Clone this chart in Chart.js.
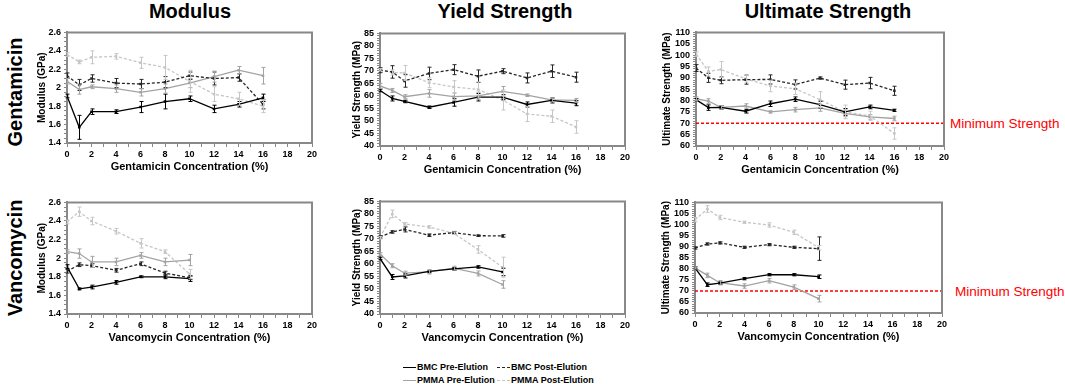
<!DOCTYPE html>
<html>
<head>
<meta charset="utf-8">
<script src="https://cdn.jsdelivr.net/npm/chart.js@4"></script>
<style>
    body { margin: 0; width: 1065px; height: 384px; position: relative; background: #fff; overflow: hidden; font-family: "Liberation Sans", Arial, sans-serif; }
    .panel { position: absolute; }
    .title { position: absolute; top: 0; font: bold 20px "Liberation Sans Narrow", "Liberation Sans", sans-serif; transform: translateX(-50%); white-space: nowrap; }
    .rowlabel { position: absolute; font: bold 20px "Liberation Sans", Arial, sans-serif; transform: translate(-50%, -50%) rotate(-90deg); white-space: nowrap; }
    .minstr { position: absolute; color: #f00; font: 13.5px "Liberation Sans", Arial, sans-serif; transform: translateY(-50%); white-space: nowrap; }
    .legend { position: absolute; left: 403px; top: 361px; font: bold 9px "Liberation Sans", Arial, sans-serif; }
    .legend .item { position: absolute; white-space: nowrap; height: 12px; line-height: 12px; }
    .legend .swatch { display: inline-block; width: 13px; height: 0; vertical-align: middle; margin-right: 1px; border-top-width: 1px; }
</style>
</head>
<body>
<div class="title" style="left:190px">Modulus</div>
<div class="title" style="left:505px">Yield Strength</div>
<div class="title" style="left:828px">Ultimate Strength</div>
<div class="rowlabel" style="left:15px;top:92px">Gentamicin</div>
<div class="rowlabel" style="left:15px;top:258px">Vancomycin</div>
<div class="minstr" style="left:950px;top:123px">Minimum Strength</div>
<div class="minstr" style="left:955px;top:291px">Minimum Strength</div>
<div class="legend" id="legend"></div>

<script>
// concentrations (%)
var gentX = [0, 1, 2, 4, 6, 8, 10, 12, 14, 16];
var vancX = [0, 1, 2, 4, 6, 8, 10];
var seriesNames = ['BMC Pre-Elution', 'BMC Post-Elution', 'PMMA Pre-Elution', 'PMMA Post-Elution'];
var minStrength = 70;

// Gentamicin - modulus (GPa)
var gentModBmcPre = [1.91, 1.57, 1.74, 1.74, 1.79, 1.85, 1.88, 1.77, 1.82, 1.89];
var gentModBmcPreErr = [0.02, 0.13, 0.03, 0.02, 0.06, 0.08, 0.03, 0.04, 0.03, 0.04];
var gentModBmcPost = [2.13, 2.03, 2.10, 2.05, 2.04, 2.06, 2.13, 2.10, 2.11, 1.82];
var gentModBmcPostErr = [0.03, 0.06, 0.04, 0.05, 0.05, 0.06, 0.04, 0.07, 0.04, 0.05];
var gentModPmmaPre = [2.07, 1.98, 2.01, 1.99, 1.95, 1.99, 2.05, 2.12, 2.19, 2.13];
var gentModPmmaPreErr = [0.03, 0.05, 0.02, 0.04, 0.04, 0.05, 0.05, 0.06, 0.04, 0.09];
var gentModPmmaPost = [2.36, 2.28, 2.33, 2.34, 2.27, 2.22, 2.07, 1.93, 1.88, 1.80];
var gentModPmmaPostErr = [0.02, 0.02, 0.07, 0.03, 0.06, 0.13, 0.12, 0.08, 0.07, 0.07];

// Gentamicin - yield strength (MPa)
var gentYsBmcPre = [62.2, 59.0, 57.8, 55.5, 57.4, 59.5, 59.5, 56.6, 58.2, 57.1];
var gentYsBmcPreErr = [0.5, 1, 0.5, 0.5, 1.5, 1.5, 1, 1, 1, 1];
var gentYsBmcPost = [70.3, 69.6, 66.0, 69.0, 70.5, 67.9, 69.9, 67.2, 69.9, 67.5];
var gentYsBmcPostErr = [1, 2.5, 2.5, 2.5, 2, 2.5, 1, 2, 2.5, 2];
var gentYsPmmaPre = [64.0, 62.2, 59.7, 61.0, 59.7, 60.0, 61.8, 60.3, 58.4, 58.2];
var gentYsPmmaPreErr = [1, 0.8, 0.8, 1.5, 1.5, 1.5, 2, 0.5, 0.8, 0.8];
var gentYsPmmaPost = [70.5, 69.4, 69.2, 65.3, 63.6, 62.6, 58.4, 52.8, 51.9, 47.6];
var gentYsPmmaPostErr = [0.5, 1, 3, 2, 2.5, 3, 4, 3, 2.5, 2.5];

// Gentamicin - ultimate strength (MPa)
var gentUtsBmcPre = [80.4, 76.9, 77.0, 75.3, 78.6, 80.6, 78.2, 75.0, 77.2, 75.7];
var gentUtsBmcPreErr = [0.5, 1.2, 0.8, 0.8, 1.2, 1, 1.5, 1.5, 0.8, 0.5];
var gentUtsBmcPost = [94.3, 90.0, 88.9, 89.2, 89.3, 87.1, 89.9, 87.0, 87.7, 84.3];
var gentUtsBmcPostErr = [1.5, 2, 1.5, 2, 2, 2, 0.5, 2, 2.5, 2];
var gentUtsPmmaPre = [80.8, 79.8, 77.0, 77.6, 75.0, 76.0, 76.8, 74.4, 72.8, 72.1];
var gentUtsPmmaPreErr = [0.8, 1, 0.8, 1, 0.5, 1, 1.5, 1.5, 1, 1];
var gentUtsPmmaPost = [100.5, 92.8, 93.7, 89.6, 86.4, 85.2, 80.4, 75.0, 73.3, 65.5];
var gentUtsPmmaPostErr = [1, 2, 3.5, 1.5, 2.5, 2.5, 3.5, 3, 2, 2.5];

// Vancomycin - modulus (GPa)
var vancModBmcPre = [1.91, 1.67, 1.69, 1.74, 1.80, 1.80, 1.78];
var vancModBmcPreErr = [0.02, 0.01, 0.02, 0.02, 0.01, 0.02, 0.03];
var vancModBmcPost = [1.86, 1.93, 1.92, 1.87, 1.94, 1.84, 1.79];
var vancModBmcPostErr = [0.02, 0.02, 0.02, 0.02, 0.02, 0.02, 0.02];
var vancModPmmaPre = [2.07, 2.05, 1.96, 1.96, 2.03, 1.96, 1.98];
var vancModPmmaPreErr = [0.02, 0.05, 0.06, 0.04, 0.03, 0.04, 0.06];
var vancModPmmaPost = [2.39, 2.50, 2.40, 2.29, 2.16, 2.07, 1.83];
var vancModPmmaPostErr = [0.02, 0.05, 0.04, 0.03, 0.05, 0.02, 0.05];

// Vancomycin - yield strength (MPa)
var vancYsBmcPre = [62.2, 54.8, 55.2, 57.0, 58.0, 58.8, 56.8];
var vancYsBmcPreErr = [0.5, 1, 0.8, 0.5, 0.5, 0.5, 1.5];
var vancYsBmcPost = [70.8, 72.8, 73.8, 71.5, 72.5, 71.3, 71.2];
var vancYsBmcPostErr = [0.5, 0.5, 1, 0.5, 0.5, 0.3, 0.5];
var vancYsPmmaPre = [64.0, 59.3, 56.3, 56.8, 58.3, 56.2, 51.8];
var vancYsPmmaPreErr = [0.5, 0.8, 0.8, 0.8, 0.8, 1, 1.5];
var vancYsPmmaPost = [70.5, 80.0, 76.0, 74.8, 72.3, 65.8, 58.7];
var vancYsPmmaPostErr = [0.5, 1.5, 0.5, 0.5, 0.5, 1.5, 4];

// Vancomycin - ultimate strength (MPa)
var vancUtsBmcPre = [80.4, 72.8, 73.5, 75.5, 77.3, 77.3, 76.4];
var vancUtsBmcPreErr = [0.5, 0.8, 0.5, 0.5, 0.5, 0.5, 0.8];
var vancUtsBmcPost = [89.4, 91.2, 91.7, 89.7, 90.9, 89.7, 89.1];
var vancUtsBmcPostErr = [0.5, 0.5, 0.5, 0.5, 0.5, 0.5, 5.3];
var vancUtsPmmaPre = [80.4, 77.0, 73.7, 72.2, 74.6, 71.7, 66.5];
var vancUtsPmmaPreErr = [0.5, 1, 1, 1, 1, 1, 1.5];
var vancUtsPmmaPost = [102.2, 107.0, 103.2, 101.0, 99.8, 96.5, 89.5];
var vancUtsPmmaPostErr = [1, 1.5, 1, 0.5, 1, 1, 1];

// line styles in the order of seriesNames
var seriesStyles = [
    { color: '#000000', dash: [] },
    { color: '#262626', dash: [3, 2] },
    { color: '#a3a3a3', dash: [] },
    { color: '#c6c6c6', dash: [3, 2] }
];

var panels = [
    { x: gentX, xTitle: 'Gentamicin Concentration (%)', yTitle: 'Modulus (GPa)', yMin: 1.4, yMax: 2.6, major: 0.2, minor: 0.05,
      series: [[gentModBmcPre, gentModBmcPreErr], [gentModBmcPost, gentModBmcPostErr], [gentModPmmaPre, gentModPmmaPreErr], [gentModPmmaPost, gentModPmmaPostErr]],
      box: { left: 67, top: 32, right: 312, bottom: 143, yw: 31 } },
    { x: gentX, xTitle: 'Gentamicin Concentration (%)', yTitle: 'Yield Strength (MPa)', yMin: 40, yMax: 85, major: 5, minor: 1,
      series: [[gentYsBmcPre, gentYsBmcPreErr], [gentYsBmcPost, gentYsBmcPostErr], [gentYsPmmaPre, gentYsPmmaPreErr], [gentYsPmmaPost, gentYsPmmaPostErr]],
      box: { left: 380, top: 33, right: 625, bottom: 146, yw: 29 } },
    { x: gentX, xTitle: 'Gentamicin Concentration (%)', yTitle: 'Ultimate Strength (MPa)', yMin: 60, yMax: 110, major: 5, minor: 1, minLine: true,
      series: [[gentUtsBmcPre, gentUtsBmcPreErr], [gentUtsBmcPost, gentUtsBmcPostErr], [gentUtsPmmaPre, gentUtsPmmaPreErr], [gentUtsPmmaPost, gentUtsPmmaPostErr]],
      box: { left: 696, top: 32, right: 944, bottom: 146, yw: 35 } },
    { x: vancX, xTitle: 'Vancomycin Concentration (%)', yTitle: 'Modulus (GPa)', yMin: 1.4, yMax: 2.6, major: 0.2, minor: 0.05,
      series: [[vancModBmcPre, vancModBmcPreErr], [vancModBmcPost, vancModBmcPostErr], [vancModPmmaPre, vancModPmmaPreErr], [vancModPmmaPost, vancModPmmaPostErr]],
      box: { left: 67, top: 202, right: 312, bottom: 314, yw: 31 } },
    { x: vancX, xTitle: 'Vancomycin Concentration (%)', yTitle: 'Yield Strength (MPa)', yMin: 40, yMax: 85, major: 5, minor: 1,
      series: [[vancYsBmcPre, vancYsBmcPreErr], [vancYsBmcPost, vancYsBmcPostErr], [vancYsPmmaPre, vancYsPmmaPreErr], [vancYsPmmaPost, vancYsPmmaPostErr]],
      box: { left: 380, top: 201, right: 625, bottom: 314, yw: 29 } },
    { x: vancX, xTitle: 'Vancomycin Concentration (%)', yTitle: 'Ultimate Strength (MPa)', yMin: 60, yMax: 110, major: 5, minor: 1, minLine: true,
      series: [[vancUtsBmcPre, vancUtsBmcPreErr], [vancUtsBmcPost, vancUtsBmcPostErr], [vancUtsPmmaPre, vancUtsPmmaPreErr], [vancUtsPmmaPost, vancUtsPmmaPostErr]],
      box: { left: 695, top: 202, right: 942, bottom: 313, yw: 35 } }
];

Chart.defaults.font.family = '"Liberation Sans", Arial, sans-serif';
Chart.defaults.color = '#000';

// error bars, then the grey frame round the plot area
var errorBars = {
    id: 'errorBars',
    afterDatasetsDraw: function (chart) {
        var ctx = chart.ctx;
        var xs = chart.scales.x;
        var ys = chart.scales.y;
        ctx.save();
        ctx.setLineDash([]);
        chart.data.datasets.forEach(function (ds) {
            if (!ds.errors) return;
            ctx.strokeStyle = ds.borderColor;
            ctx.lineWidth = 1;
            ds.data.forEach(function (p, i) {
                var e = ds.errors[i];
                var px = Math.round(xs.getPixelForValue(p.x)) + 0.5;
                var top = ys.getPixelForValue(p.y + e);
                var bot = ys.getPixelForValue(p.y - e);
                ctx.beginPath();
                ctx.moveTo(px, top); ctx.lineTo(px, bot);
                ctx.moveTo(px - 2, top); ctx.lineTo(px + 2, top);
                ctx.moveTo(px - 2, bot); ctx.lineTo(px + 2, bot);
                ctx.stroke();
            });
        });
        ctx.restore();
    },
    afterDraw: function (chart) {
        var ctx = chart.ctx;
        var a = chart.chartArea;
        ctx.save();
        ctx.setLineDash([]);
        ctx.strokeStyle = '#888888';
        ctx.lineWidth = 2;
        ctx.beginPath();
        ctx.moveTo(a.left, a.top); ctx.lineTo(a.right, a.top); ctx.lineTo(a.right, a.bottom);
        ctx.stroke();
        ctx.restore();
    }
};

function isMultiple(v, step) {
    var r = v / step;
    return Math.abs(r - Math.round(r)) < 1e-6;
}

panels.forEach(function (p) {
    var b = p.box;
    var div = document.createElement('div');
    div.className = 'panel';
    div.style.left = (b.left - b.yw) + 'px';
    div.style.top = (b.top - 8) + 'px';
    div.style.width = (b.yw + (b.right - b.left) + 12) + 'px';
    div.style.height = (8 + (b.bottom - b.top) + 31) + 'px';
    var canvas = document.createElement('canvas');
    div.appendChild(canvas);
    document.body.appendChild(div);

    var datasets = p.series.map(function (s, i) {
        var st = seriesStyles[i];
        return {
            label: seriesNames[i],
            data: p.x.map(function (x, k) { return { x: x, y: s[0][k] }; }),
            errors: s[1],
            borderColor: st.color,
            backgroundColor: st.color,
            borderDash: st.dash,
            borderWidth: 1.3,
            pointRadius: 1.8,
            pointStyle: 'rect',
            pointBorderWidth: 0,
            tension: 0
        };
    });
    if (p.minLine) {
        datasets.push({
            label: 'Minimum Strength',
            data: [{ x: 0, y: minStrength }, { x: 20, y: minStrength }],
            borderColor: '#ff0000',
            borderDash: [3, 2],
            borderWidth: 1.5,
            pointRadius: 0
        });
    }

    new Chart(canvas.getContext('2d'), {
        type: 'line',
        data: { datasets: datasets },
        options: {
            responsive: true,
            maintainAspectRatio: false,
            animation: false,
            layout: { padding: { top: 8, right: 12, left: 0, bottom: 0 } },
            plugins: { legend: { display: false }, tooltip: { enabled: false } },
            scales: {
                x: {
                    type: 'linear',
                    min: 0,
                    max: 20,
                    border: { color: '#888888', width: 2 },
                    grid: { drawOnChartArea: false, color: '#888888', tickLength: 4 },
                    ticks: {
                        stepSize: 1,
                        autoSkip: false,
                        maxRotation: 0,
                        padding: 2,
                        font: { size: 9, weight: 'bold' },
                        callback: function (v) { return v % 2 === 0 ? String(v) : ''; }
                    },
                    title: { display: true, text: p.xTitle, font: { size: 11, weight: 'bold' }, padding: 0 },
                    afterFit: function (scale) { scale.height = 31; }
                },
                y: {
                    min: p.yMin,
                    max: p.yMax,
                    border: { color: '#888888', width: 2 },
                    grid: { drawOnChartArea: false, color: '#888888', tickLength: 3 },
                    ticks: {
                        stepSize: p.minor,
                        autoSkip: false,
                        padding: 3,
                        font: { size: 9, weight: 'bold' },
                        callback: function (v) {
                            return isMultiple(v, p.major) ? String(Math.round(v * 10) / 10) : '';
                        }
                    },
                    title: { display: true, text: p.yTitle, font: { size: 10, weight: 'bold' }, padding: 0 },
                    afterFit: function (scale) { scale.width = b.yw; }
                }
            }
        },
        plugins: [errorBars]
    });
});

// legend below the charts
var legend = document.getElementById('legend');
seriesNames.forEach(function (name, i) {
    var st = seriesStyles[i];
    var item = document.createElement('div');
    item.className = 'item';
    item.style.left = (i % 2 === 0 ? 0 : 94) + 'px';
    item.style.top = (i < 2 ? 0 : 13) + 'px';
    var sw = document.createElement('span');
    sw.className = 'swatch';
    sw.style.borderTopStyle = st.dash.length ? 'dashed' : 'solid';
    sw.style.borderTopColor = st.color;
    item.appendChild(sw);
    item.appendChild(document.createTextNode(name));
    legend.appendChild(item);
});
</script>
</body>
</html>
